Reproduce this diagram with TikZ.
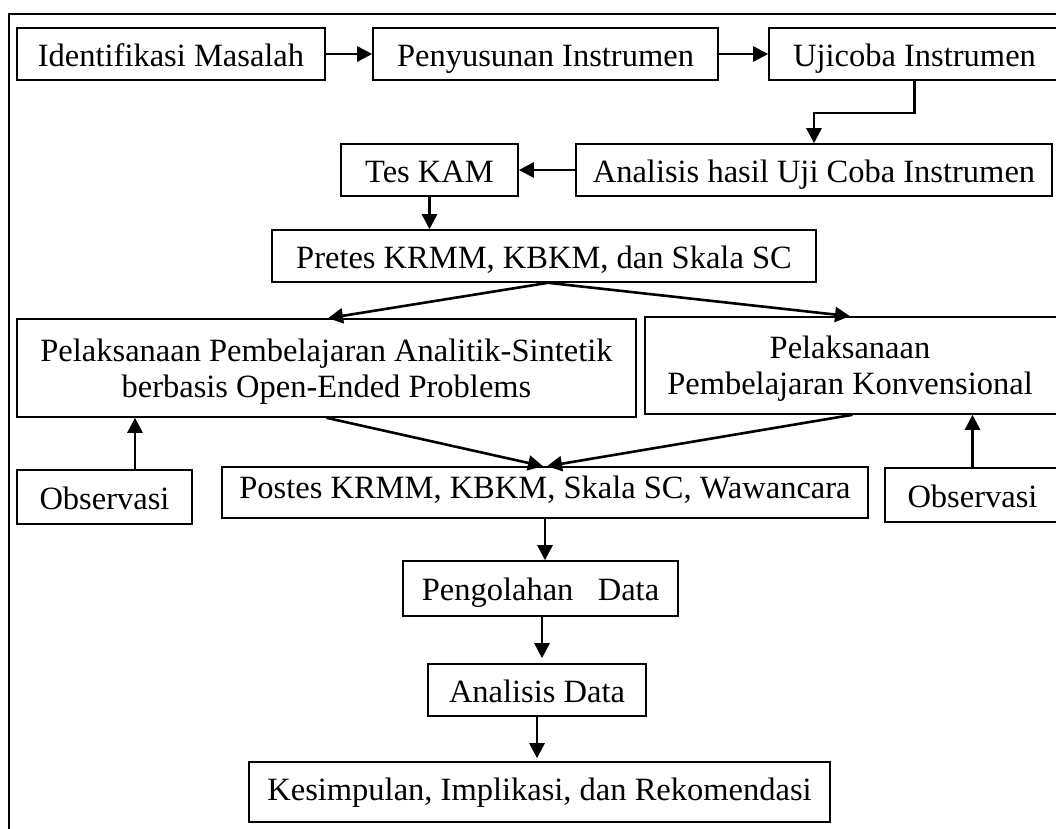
\documentclass[tikz,border=0pt]{standalone}
\usepackage{fontspec}
\setmainfont{Liberation Serif}
\usetikzlibrary{arrows.meta}
\tikzset{
  box/.style={draw, line width=1.6pt, inner sep=0pt, font=\fontsize{32.5pt}{36pt}\selectfont,
              text height=26pt, text depth=2pt},
  frame/.style={draw, line width=1.6pt, inner sep=0pt},
  txt/.style={inner sep=0pt, align=center, font=\fontsize{32.5pt}{36pt}\selectfont},
  arr/.style={line width=2.6pt, -{Triangle[length=15pt,width=15pt]}},
  outer/.style={line width=2.6pt}
}
\begin{document}
\begin{tikzpicture}[x=1pt,y=-1pt]
\useasboundingbox (0,0) rectangle (1056,828);
\clip (0,0) rectangle (1056,828);
\draw[outer] (9,14) rectangle (1080,850);
% row 1
\node[box, minimum width=308, minimum height=52] (idm) at (171,54) {Identifikasi Masalah};
\node[box, minimum width=345, minimum height=52] (pen) at (545.5,54) {Penyusunan Instrumen};
\node[box, minimum width=291, minimum height=52] (uji) at (914.5,54) {Ujicoba Instrumen};
% row 2
\node[box, minimum width=476, minimum height=52] (ahu) at (814,170) {Analisis hasil Uji Coba Instrumen};
\node[box, minimum width=177, minimum height=52] (kam) at (429.5,170) {Tes KAM};
% row 3
\node[box, minimum width=544, minimum height=52] (pre) at (544,256) {Pretes KRMM, KBKM, dan Skala SC};
% row 4
\node[frame, minimum width=619, minimum height=98] (pas) at (326.5,368) {};
\node[txt] (past) at (326.5,371.5) {Pelaksanaan Pembelajaran Analitik-Sintetik\\berbasis Open-Ended Problems};
\node[frame, minimum width=415, minimum height=97] (pkv) at (852.5,365.5) {};
\node[txt] (pkvt) at (850,368.5) {Pelaksanaan\\Pembelajaran Konvensional};
% row 5
\node[box, minimum width=175, minimum height=54] (obl) at (104.5,497) {Observasi};
\node[box, minimum width=646, minimum height=51, text height=15pt, text depth=4pt] (pos) at (545,492.5) {Postes KRMM, KBKM, Skala SC, Wawancara};
\node[box, minimum width=175, minimum height=54] (obr) at (972.5,495) {Observasi};
% rows 6-8
\node[box, minimum width=275, minimum height=55] (peng) at (540.5,588.5) {Pengolahan\ \ \ Data};
\node[box, minimum width=218, minimum height=52] (ad) at (537,690) {Analisis Data};
\node[box, minimum width=581, minimum height=60, text height=18pt, text depth=2pt] (kes) at (539.5,792) {Kesimpulan, Implikasi, dan Rekomendasi};
% connectors
\draw[arr] (idm.east) -- (pen.west);
\draw[arr] (pen.east) -- (uji.west);
\draw[arr] (uji.south) -- ++(0,32) -| (ahu.north);
\draw[arr] (ahu.west) -- (kam.east);
\draw[arr] (kam.south) -- (kam.south |- pre.north);
\draw[arr] ([xshift=4pt]pre.south) -- ([xshift=1.5pt]pas.north);
\draw[arr] ([xshift=4pt]pre.south) -- ([xshift=-2.5pt]pkv.north);
\draw[arr] (pas.south) -- ([xshift=-2pt]pos.north);
\draw[arr] (pkv.south) -- ([xshift=2pt]pos.north);
\draw[arr] ([xshift=30.5pt]obl.north) -- ([xshift=30.5pt]obl.north |- pas.south);
\draw[arr] (obr.north) -- (obr.north |- pkv.south);
\draw[arr] (pos.south) -- (pos.south |- peng.north);
\draw[arr, shorten >=5pt] ([xshift=1.5pt]peng.south) -- ([xshift=1.5pt]peng.south |- ad.north);
\draw[arr, shorten >=3pt] (ad.south) -- (ad.south |- kes.north);
\end{tikzpicture}
\end{document}
